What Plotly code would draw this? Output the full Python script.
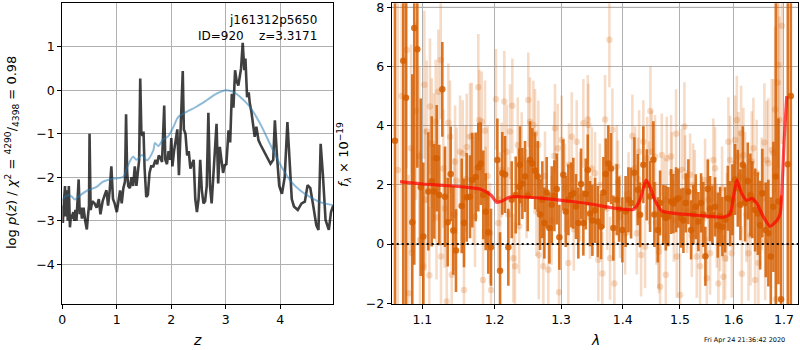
import plotly.graph_objects as go
import math

# ---------------- left panel: p(z) ----------------
z_pz = [0.00, 0.01, 0.03, 0.05, 0.06, 0.08, 0.10, 0.12, 0.14, 0.16,
        0.18, 0.20, 0.22, 0.24, 0.26, 0.28, 0.30, 0.32, 0.34, 0.36,
        0.39, 0.42, 0.45, 0.47, 0.49, 0.50, 0.52, 0.55, 0.59, 0.63,
        0.67, 0.70, 0.74, 0.78, 0.81, 0.84, 0.87, 0.90, 0.93, 0.96,
        1.00, 1.03, 1.06, 1.09, 1.12, 1.15, 1.17, 1.19, 1.21, 1.24,
        1.27, 1.30, 1.33, 1.36, 1.39, 1.41, 1.43, 1.45, 1.47, 1.49,
        1.51, 1.54, 1.57, 1.60, 1.63, 1.67, 1.71, 1.74, 1.77, 1.80,
        1.83, 1.85, 1.87, 1.89, 1.92, 1.95, 1.98, 2.00, 2.02, 2.05,
        2.08, 2.11, 2.14, 2.17, 2.19, 2.21, 2.23, 2.26, 2.29, 2.32,
        2.35, 2.38, 2.41, 2.44, 2.47, 2.50, 2.53, 2.56, 2.59, 2.62,
        2.65, 2.68, 2.71, 2.74, 2.77, 2.80, 2.83, 2.86, 2.89, 2.92,
        2.95, 2.98, 3.01, 3.05, 3.08, 3.11, 3.14, 3.17, 3.20, 3.23,
        3.26, 3.28, 3.31, 3.34, 3.36, 3.39, 3.42, 3.44, 3.47, 3.50,
        3.53, 3.56, 3.60, 3.64, 3.70, 3.76, 3.82, 3.87, 3.90, 3.94,
        3.98, 4.03, 4.08, 4.13, 4.17, 4.21, 4.25, 4.32, 4.39, 4.45,
        4.50, 4.55, 4.61, 4.66, 4.70, 4.74, 4.78, 4.83, 4.89, 4.93,
        4.97]
logp = [-2.65, -3.05, -2.55, -2.20, -2.90, -2.30, -3.00, -2.20, -3.15, -2.85,
        -2.95, -2.80, -3.00, -2.75, -3.00, -2.60, -2.05, -2.85, -2.70, -2.95,
        -2.70, -3.00, -3.20, -2.90, -2.65, -1.00, -2.75, -2.55, -2.60, -2.70,
        -2.50, -2.85, -2.55, -2.40, -2.30, -2.65, -2.30, -1.75, -2.50, -2.60,
        -2.80, -2.55, -2.30, -2.60, -2.25, -2.10, -0.55, -1.90, -2.20, -2.25,
        -2.00, -2.20, -1.75, -2.20, -1.90, -1.60, 0.27, -0.95, -1.05, -0.95,
        -1.80, -2.45, -2.40, -1.90, -1.75, -1.75, -1.60, -1.70, -1.50, -1.55,
        -1.65, -1.05, -0.35, -1.60, -1.70, -1.40, -1.60, -1.10, -1.75, -1.40,
        -1.10, -0.90, -1.95, -0.90, 0.10, 0.44, -0.90, -1.00, -1.50, -1.40,
        -1.80, -1.70, -1.60, -2.50, -2.80, -2.50, -1.60, -2.30, -2.60, -2.55,
        -2.20, -0.52, -2.20, -2.60, -2.00, -1.40, -0.77, -2.14, -1.30, -1.60,
        -1.90, -1.72, -1.70, -0.92, -1.20, -0.08, -0.40, 0.46, 0.20, 0.11,
        0.31, 0.50, 1.09, 0.46, 0.73, -0.16, -0.05, -0.30, -0.50, -0.80,
        -1.07, -0.84, -1.15, -1.26, -1.40, -1.54, -1.69, -1.60, -0.69, -1.54,
        -2.20, -2.38, -2.00, -0.73, -1.60, -2.50, -2.67, -2.75, -2.60, -2.56,
        -2.18, -2.25, -2.70, -3.10, -3.21, -1.23, -1.92, -2.98, -3.21, -2.80,
        -2.65]

z_prior = [0.00, 0.08, 0.17, 0.23, 0.29, 0.45, 0.63, 0.75, 0.94, 1.12,
           1.18, 1.30, 1.36, 1.46, 1.55, 1.67, 1.70, 1.76, 1.85, 1.94,
           2.04, 2.13, 2.28, 2.46, 2.65, 2.83, 3.00, 3.14, 3.26, 3.44,
           3.63, 3.81, 3.99, 4.18, 4.36, 4.54, 4.73, 4.97]
logp_prior = [-2.53, -2.42, -2.44, -2.51, -2.45, -2.31, -2.22, -2.10, -2.03, -1.99,
              -1.80, -1.53, -1.60, -1.49, -1.61, -1.38, -1.21, -1.28, -1.13, -1.06,
              -0.84, -0.61, -0.50, -0.38, -0.23, -0.08, 0.00, -0.04, -0.15, -0.38,
              -0.77, -1.23, -1.69, -2.07, -2.30, -2.45, -2.57, -2.64]

# ---------------- right panel: spectrum ----------------
lam_beam = [1.0680, 1.0730, 1.0795, 1.0816, 1.0851, 1.0861, 1.0917, 1.0960, 1.0970, 1.1013,
            1.1027, 1.1058, 1.1093, 1.1102, 1.1125, 1.1156, 1.1179, 1.1214, 1.1246, 1.1250,
            1.1282, 1.1328, 1.1350, 1.1373, 1.1396, 1.1442, 1.1465, 1.1511, 1.1548, 1.1566,
            1.1604, 1.1650, 1.1674, 1.1720, 1.1767, 1.1781, 1.1815, 1.1834, 1.1862, 1.1872,
            1.1934, 1.1948, 1.2020, 1.2054, 1.2103, 1.2141, 1.2177, 1.2225, 1.2259, 1.2274,
            1.2299, 1.2339, 1.2398, 1.2497, 1.2523, 1.2573, 1.2599, 1.2649, 1.2655, 1.2725,
            1.2802, 1.2895, 1.2905, 1.2947, 1.2967, 1.3009, 1.3114, 1.3125, 1.3168, 1.3247,
            1.3353, 1.3424, 1.3434, 1.3489, 1.3543, 1.3596, 1.3662, 1.3707, 1.3778, 1.3789,
            1.3828, 1.3861, 1.3901, 1.3956, 1.4041, 1.4164, 1.4211, 1.4240, 1.4279, 1.4314,
            1.4353, 1.4383, 1.4452, 1.4475, 1.4499, 1.4557, 1.4615, 1.4627, 1.4645, 1.4675,
            1.4746, 1.4764, 1.4840, 1.4853, 1.4930, 1.4942, 1.5002, 1.5033, 1.5080, 1.5092,
            1.5184, 1.5215, 1.5270, 1.5306, 1.5367, 1.5460, 1.5492, 1.5553, 1.5615, 1.5647,
            1.5710, 1.5742, 1.5805, 1.5837, 1.5900, 1.5933, 1.5965, 1.6029, 1.6062, 1.6093,
            1.6145, 1.6159, 1.6190, 1.6223, 1.6288, 1.6354, 1.6386, 1.6420, 1.6485, 1.6552,
            1.6604, 1.6652, 1.6684, 1.6753, 1.6785, 1.6820, 1.6840, 1.6874, 1.6887, 1.6907,
            1.6956, 1.1040, 1.1190, 1.1300, 1.1430, 1.1590, 1.1700, 1.1900, 1.2080, 1.2200,
            1.2360, 1.2470, 1.2620, 1.2750, 1.2850, 1.3060, 1.3200, 1.3300, 1.3460, 1.3620,
            1.3740, 1.3920, 1.4100, 1.4260, 1.4420, 1.4580, 1.4720, 1.4890, 1.5130, 1.5240,
            1.5400, 1.5520, 1.5680, 1.5780, 1.5870, 1.6000, 1.6120, 1.6250, 1.6330, 1.6450,
            1.6620]
flux_beam = [2.50, 5.00, 6.56, -1.66, 3.24, -0.30, 4.50, 2.98, 0.14, -0.75,
             5.38, 3.80, -1.05, 4.65, 3.40, 2.90, 4.13, 5.15, 6.22, -0.42,
             2.55, -1.94, 4.10, 3.63, -1.04, 2.78, 2.14, 3.12, 3.06, -1.55,
             3.28, 3.63, 3.65, 0.93, 5.30, 4.19, 4.13, -1.21, 3.83, 1.60,
             0.37, -1.55, 4.89, 0.71, 2.51, 4.82, 3.12, 3.80, 4.67, -0.48,
             -0.75, 3.35, 2.85, 4.87, 4.13, 4.02, 3.74, 3.35, -0.37, -0.75,
             -0.87, 2.98, 3.91, 3.24, -1.63, 3.52, -0.64, 2.68, 3.63, 3.46,
             4.08, 4.21, 4.02, 2.55, 2.39, -0.53, -0.99, 4.21, 6.90, -0.48,
             3.86, -1.33, 2.62, 0.93, 0.37, 3.65, 2.57, 0.37, 3.12, -0.37,
             3.46, -0.09, 2.07, 4.50, 3.12, 2.96, -0.09, -0.26, -1.44, 3.01,
             -1.04, 2.90, 2.96, 2.39, 3.73, -0.42, -1.72, 2.50, 3.97, 2.28,
             2.34, 0.29, 1.78, -0.42, -0.75, 2.16, -1.15, -0.31, 2.84, 2.56,
             -1.33, 0.48, -1.10, -0.48, 3.46, 2.84, -0.31, 3.52, 4.19, 2.96,
             3.75, -1.00, 3.01, 2.18, -0.31, 2.79, 3.24, -1.21, -0.64, 1.70,
             3.43, 2.84, 2.73, 3.18, 3.08, 4.55, -1.86, 5.46, 6.06, 4.19,
             7.38, 1.50, 0.90, 1.20, 1.00, 2.20, 1.80, 2.30, 1.50, 1.00,
             0.60, 1.70, 1.10, 2.30, 0.80, 1.90, 0.50, 1.60, 0.90, 2.00,
             1.20, 2.10, 1.70, 2.20, 2.90, 0.70, 1.50, 0.80, 1.10, 2.00,
             0.90, 1.50, 0.60, 1.90, 0.90, 1.30, 2.30, 1.00, 0.30, 2.40,
             0.10]
err_beam = [6.0, 5.0, 4.0, 4.0, 3.5, 3.5, 3.0, 3.0, 3.0, 2.5,
            2.5, 2.4, 2.3, 2.3, 2.2, 2.2, 2.1, 2.1, 2.0, 2.0,
            2.0, 2.0, 2.0, 1.9, 1.9, 1.9, 1.8, 1.9, 1.8, 1.8,
            1.8, 1.8, 1.8, 1.7, 1.8, 1.7, 1.7, 1.7, 1.7, 1.7,
            1.7, 1.6, 1.7, 1.6, 1.6, 1.7, 1.6, 1.6, 1.6, 1.5,
            1.5, 1.6, 1.6, 1.6, 1.5, 1.5, 1.5, 1.5, 1.5, 1.5,
            1.5, 1.5, 1.5, 1.5, 1.5, 1.5, 1.5, 1.4, 1.5, 1.4,
            1.5, 1.5, 1.4, 1.4, 1.4, 1.4, 1.4, 1.5, 1.6, 1.4,
            1.4, 1.4, 1.4, 1.4, 1.4, 1.4, 1.4, 1.4, 1.4, 1.4,
            1.4, 1.4, 1.4, 1.5, 1.4, 1.4, 1.4, 1.4, 1.4, 1.4,
            1.4, 1.4, 1.4, 1.4, 1.5, 1.4, 1.4, 1.4, 1.5, 1.4,
            1.4, 1.4, 1.4, 1.4, 1.4, 1.4, 1.4, 1.4, 1.4, 1.4,
            1.4, 1.4, 1.4, 1.4, 1.5, 1.5, 1.5, 1.5, 1.5, 1.5,
            1.6, 1.6, 1.6, 1.6, 1.6, 1.7, 1.7, 1.8, 1.8, 1.9,
            2.0, 2.0, 2.2, 2.4, 2.5, 2.8, 3.0, 3.2, 3.5, 3.5,
            4.0, 2.4, 2.1, 2.0, 1.9, 1.8, 1.8, 1.7, 1.6, 1.6,
            1.6, 1.5, 1.5, 1.5, 1.5, 1.5, 1.4, 1.5, 1.4, 1.4,
            1.4, 1.4, 1.4, 1.4, 1.4, 1.4, 1.4, 1.4, 1.4, 1.4,
            1.4, 1.4, 1.4, 1.4, 1.5, 1.5, 1.5, 1.6, 1.7, 1.8,
            2.0]

lam_stack = [1.0644, 1.0751, 1.0786, 1.0868, 1.0894, 1.0934, 1.0979, 1.1013, 1.1080, 1.1125,
             1.1160, 1.1192, 1.1227, 1.1268, 1.1305, 1.1341, 1.1382, 1.1418, 1.1455, 1.1534,
             1.1566, 1.1604, 1.1650, 1.1682, 1.1730, 1.1767, 1.1801, 1.1838, 1.1872, 1.1909,
             1.1948, 1.2040, 1.2079, 1.2112, 1.2152, 1.2200, 1.2250, 1.2309, 1.2358, 1.2373,
             1.2408, 1.2448, 1.2488, 1.2523, 1.2558, 1.2599, 1.2640, 1.2675, 1.2710, 1.2741,
             1.2777, 1.2818, 1.2855, 1.2895, 1.2932, 1.2973, 1.3035, 1.3073, 1.3114, 1.3157,
             1.3193, 1.3236, 1.3273, 1.3316, 1.3353, 1.3392, 1.3424, 1.3461, 1.3499, 1.3543,
             1.3587, 1.3641, 1.3679, 1.3718, 1.3761, 1.3806, 1.3844, 1.3901, 1.3940, 1.3995,
             1.4050, 1.4097, 1.4142, 1.4199, 1.4257, 1.4296, 1.4353, 1.4412, 1.4470, 1.4527,
             1.4545, 1.4604, 1.4645, 1.4703, 1.4746, 1.4792, 1.4840, 1.4881, 1.4930, 1.4971,
             1.5020, 1.5062, 1.5105, 1.5152, 1.5202, 1.5244, 1.5288, 1.5336, 1.5386, 1.5428,
             1.5466, 1.5510, 1.5553, 1.5597, 1.5647, 1.5698, 1.5742, 1.5786, 1.5837, 1.5889,
             1.5933, 1.5977, 1.6029, 1.6081, 1.6132, 1.6178, 1.6223, 1.6276, 1.6327, 1.6366,
             1.6420, 1.6473, 1.6519, 1.6564, 1.6632, 1.6684, 1.6733, 1.6785, 1.6834, 1.6887,
             1.6941, 1.7079, 1.7141]
flux_stack = [3.49, 6.19, 4.94, 0.74, 7.30, 6.58, 1.92, 0.26, 1.78, 2.12,
              1.78, 2.90, 1.66, 5.23, 1.60, 0.74, 2.37, 0.46, -0.22, 1.29,
              0.72, 1.58, 1.60, 2.16, 2.27, 2.60, 2.72, 1.66, 1.09, 0.40,
              -0.11, 2.84, -0.90, 2.39, 2.35, -0.11, 1.50, 1.66, 1.94, 2.68,
              2.05, 2.28, 1.63, 2.85, 2.72, 2.48, 2.28, 1.00, 1.50, 0.71,
              1.74, 0.54, 1.33, 1.63, 1.86, 0.23, 2.34, 1.10, 1.50, 1.66,
              1.72, 1.27, 0.71, 2.03, 0.71, 1.69, 2.50, 1.03, 0.80, 1.14,
              0.76, 0.59, 1.74, 2.37, 2.72, 2.55, 0.54, 1.50, 1.18, 0.48,
              1.10, 1.50, 1.39, 2.41, 1.84, 0.99, 2.68, 2.00, 1.61, 2.85,
              1.00, 0.48, 1.39, 1.00, 0.88, 0.93, 1.44, 1.37, 1.50, 1.55,
              0.88, 0.80, 1.39, 1.77, 0.48, 1.00, 1.26, 0.76, 1.39, 1.00,
              -0.41, 1.86, 1.20, 0.98, 1.26, 0.64, 0.93, 0.59, 0.82, 1.55,
              1.03, 1.50, 2.18, 1.89, 1.33, 2.68, 1.39, 2.13, 1.66, 1.50,
              1.15, 1.03, 0.64, 1.72, 0.48, 0.37, -0.42, 1.26, 2.28, 1.44,
              -1.86, 2.70, 5.00]
err_stack = [12.0, 10.0, 7.0, 5.0, 8.0, 4.0, 3.0, 2.5, 2.0, 2.2,
             1.6, 1.8, 1.7, 1.6, 1.7, 1.5, 1.6, 1.5, 1.4, 1.6,
             1.5, 1.5, 1.4, 1.6, 1.5, 1.5, 1.4, 1.5, 1.3, 1.4,
             1.3, 1.4, 1.3, 1.4, 1.3, 1.3, 1.3, 1.3, 1.3, 1.3,
             1.2, 1.2, 1.2, 1.3, 1.2, 1.3, 1.2, 1.2, 1.3, 1.2,
             1.2, 1.2, 1.3, 1.2, 1.2, 1.1, 1.2, 1.2, 1.2, 1.1,
             1.2, 1.1, 1.2, 1.2, 1.1, 1.2, 1.2, 1.1, 1.2, 1.1,
             1.2, 1.1, 1.2, 1.2, 1.3, 1.2, 1.1, 1.2, 1.1, 1.1,
             1.2, 1.1, 1.2, 1.2, 1.2, 1.1, 1.3, 1.2, 1.2, 1.3,
             1.1, 1.1, 1.1, 1.0, 1.1, 1.0, 1.1, 1.0, 1.1, 1.0,
             1.0, 1.1, 1.0, 1.1, 1.0, 1.0, 1.1, 1.0, 1.0, 1.1,
             1.0, 1.0, 1.1, 1.0, 1.0, 1.1, 1.0, 1.0, 1.1, 1.1,
             1.1, 1.2, 1.2, 1.3, 1.2, 1.3, 1.3, 1.3, 1.4, 1.3,
             1.4, 1.4, 1.5, 1.5, 1.6, 1.8, 2.0, 2.2, 10.0, 2.8,
             3.5, 12.0, 12.0]

lam_model = [1.0709, 1.1000, 1.1300, 1.1600, 1.1800, 1.1950, 1.2031, 1.2100, 1.2225, 1.2373,
             1.2700, 1.3035, 1.3400, 1.3844, 1.4181, 1.4296, 1.4399, 1.4470, 1.4557, 1.4675,
             1.5002, 1.5400, 1.5805, 1.5933, 1.5997, 1.6062, 1.6159, 1.6255, 1.6354, 1.6452,
             1.6585, 1.6718, 1.6855, 1.6922, 1.6956, 1.7003, 1.7058]
flux_model = [2.11, 2.03, 1.98, 1.92, 1.85, 1.65, 1.41, 1.45, 1.59, 1.60,
              1.55, 1.47, 1.38, 1.22, 1.17, 1.50, 2.16, 1.93, 1.47, 1.12,
              1.02, 0.96, 0.91, 1.02, 1.60, 2.16, 1.70, 1.48, 1.54, 1.38,
              0.92, 0.60, 0.80, 1.02, 1.70, 3.50, 5.00]

x_ticks_right = [1.1, 1.2, 1.3, 1.4, 1.5, 1.6, 1.7]
y_ticks_right = [-2, 0, 2, 4, 6, 8]
x_ticks_left = [0, 1, 2, 3, 4]
y_ticks_left = [-4, -3, -2, -1, 0, 1]

ORANGE = "213,94,0"
FONT = "DejaVu Sans"

fig = go.Figure()

fig.add_trace(go.Scatter(x=z_pz, y=logp, mode="lines",
                         line=dict(color="rgba(0,0,0,0.75)", width=2.6),
                         xaxis="x", yaxis="y", showlegend=False))
fig.add_trace(go.Scatter(x=z_prior, y=logp_prior, mode="lines",
                         line=dict(color="rgba(31,119,180,0.5)", width=2, shape="spline"),
                         xaxis="x", yaxis="y", showlegend=False))

fig.add_trace(go.Scatter(x=lam_beam, y=flux_beam, mode="markers",
                         marker=dict(color=f"rgba({ORANGE},0.22)", size=6.5),
                         error_y=dict(type="data", array=err_beam, visible=True,
                                      color=f"rgba({ORANGE},0.22)", thickness=2.6, width=0),
                         xaxis="x2", yaxis="y2", showlegend=False))
fig.add_trace(go.Scatter(x=lam_stack, y=flux_stack, mode="markers",
                         marker=dict(color=f"rgba({ORANGE},0.85)", size=6.5),
                         error_y=dict(type="data", array=err_stack, visible=True,
                                      color=f"rgba({ORANGE},0.85)", thickness=2.6, width=0),
                         xaxis="x2", yaxis="y2", showlegend=False))
fig.add_trace(go.Scatter(x=lam_model, y=flux_model, mode="lines",
                         line=dict(color="rgba(255,0,0,0.7)", width=3.2, shape="spline",
                                   smoothing=0.6),
                         xaxis="x2", yaxis="y2", showlegend=False))

axis_common = dict(showgrid=True, gridcolor="#b0b0b0", gridwidth=1, automargin=False,
                   showline=True, linecolor="black", linewidth=1, mirror=True,
                   ticks="outside", ticklen=4, tickwidth=1, tickcolor="black",
                   ticklabeloverflow="allow",
                   zeroline=False, tickfont=dict(family=FONT, size=12.5, color="black"))

ydom = [46.0 / 350, 346.7 / 350]
fig.update_layout(
    width=800, height=350, margin=dict(l=0, r=0, t=0, b=0, autoexpand=False),
    paper_bgcolor="white", plot_bgcolor="white",
    font=dict(family=FONT, color="black"),
    xaxis=dict(domain=[62.3 / 800, 333.3 / 800], range=[0, 4.972],
               tickvals=x_ticks_left, anchor="y", **axis_common),
    yaxis=dict(domain=ydom, range=[-4.912, 1.997], tickvals=y_ticks_left,
               anchor="x", **axis_common),
    xaxis2=dict(type="log", domain=[391.7 / 800, 798.3 / 800],
                range=[math.log10(1.0602), math.log10(1.7296)],
                tickvals=x_ticks_right, ticktext=[f"{v:.1f}" for v in x_ticks_right],
                anchor="y2", **axis_common),
    yaxis2=dict(domain=ydom, range=[-2.024, 8.135], tickvals=y_ticks_right,
                anchor="x2", **axis_common),
    shapes=[
        dict(type="line", xref="x2 domain", x0=0, x1=1, yref="y2",
             y0=y_ticks_right[-1], y1=y_ticks_right[-1],
             line=dict(color="#b0b0b0", width=1), layer="below"),
        dict(type="line", xref="x2 domain", x0=0, x1=1, yref="y2", y0=0, y1=0,
             line=dict(color="black", width=2, dash="2px,3px"), layer="above"),
    ],
    annotations=[
        dict(text="j161312p5650", x=318.5 / 800, y=1 - 20 / 350, xref="paper", yref="paper",
             xanchor="right", yanchor="middle", showarrow=False,
             font=dict(family=FONT, size=12, color="black")),
        dict(text="ID=920\u00a0\u00a0\u00a0\u00a0z=3.3171", x=318.5 / 800, y=1 - 35.5 / 350,
             xref="paper", yref="paper", xanchor="right", yanchor="middle", showarrow=False,
             font=dict(family=FONT, size=12, color="black")),
        dict(text="<i>z</i>", x=197 / 800, y=1 - 340 / 350, xref="paper", yref="paper",
             xanchor="center", yanchor="middle", showarrow=False,
             font=dict(family=FONT, size=14, color="black")),
        dict(text="<i>λ</i>", x=595 / 800, y=1 - 340 / 350, xref="paper", yref="paper",
             xanchor="center", yanchor="middle", showarrow=False,
             font=dict(family=FONT, size=14, color="black")),
        dict(text="log <i>p</i>(<i>z</i>) / <i>χ</i><sup>2</sup> = <sup>4290</sup>/<sub>4398</sub> = 0.98",
             x=12 / 800, y=1 - 153 / 350, xref="paper", yref="paper", textangle=-90,
             xanchor="center", yanchor="middle", showarrow=False,
             font=dict(family=FONT, size=13, color="black")),
        dict(text="<i>f</i><sub><i>λ</i></sub> × 10<sup>−19</sup>",
             x=344 / 800, y=1 - 155 / 350, xref="paper", yref="paper", textangle=-90,
             xanchor="center", yanchor="middle", showarrow=False,
             font=dict(family=FONT, size=13, color="black")),
        dict(text="Fri Apr 24 21:36:42 2020", x=787 / 800, y=1 - 339.5 / 350,
             xref="paper", yref="paper", xanchor="right", yanchor="middle", showarrow=False,
             font=dict(family=FONT, size=6.5, color="black")),
    ],
)

fig.write_html("out.html")
